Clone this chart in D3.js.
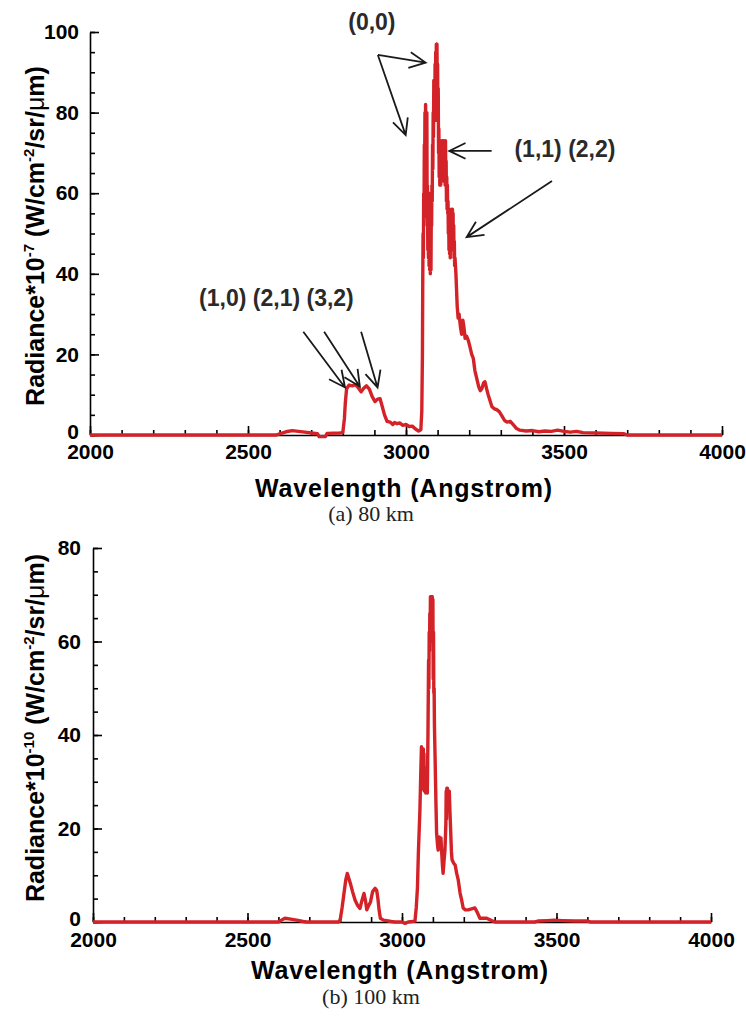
<!DOCTYPE html>
<html>
<head>
<meta charset="utf-8">
<script src="https://cdn.jsdelivr.net/npm/d3@7"></script>
<style>
  body { margin: 0; background: #fff; }
  svg { display: block; }
</style>
</head>
<body>
<svg id="fig"></svg>
<script>
// (a) 80 km spectrum: [wavelength (Angstrom), radiance (1e-7 W/cm^2/sr/um)]
const spectrum80 = [
  [2000, 0], [2590, 0], [2600, 0.3], [2620, 0.8], [2640, 1.1], [2660, 0.9], [2680, 0.7], [2700, 0.5],
  [2720, 0.3], [2725, -0.4], [2745, -0.4], [2750, 0.4], [2790, 0.5], [2800, 0.6],
  [2805, 4], [2808, 8], [2812, 11.5], [2820, 12.4], [2830, 12.2], [2840, 12.5], [2850, 11.6],
  [2858, 10.7], [2866, 11.6], [2875, 12.2], [2884, 11.4], [2893, 9.5], [2902, 8.3], [2910, 8.9],
  [2918, 9], [2925, 7], [2932, 5], [2940, 3.4], [2950, 3.2], [2958, 2.6], [2964, 3.1], [2972, 2.8],
  [2980, 3.0], [2990, 2.4], [3000, 2.6], [3010, 2.1], [3020, 2.2], [3030, 1.5], [3040, 1.0], [3047, 1.3],
  [3050, 6], [3052, 20], [3053, 38], [3054, 50], [3055, 44], [3056, 60], [3057, 54], [3058, 72],
  [3059, 66], [3060, 80], [3061, 72], [3062, 82], [3063, 66], [3064, 78], [3065, 58], [3066, 80],
  [3067, 52], [3068, 62], [3069, 46], [3070, 58], [3071, 44], [3072, 60], [3073, 42], [3074, 54],
  [3075, 41], [3076, 50], [3077, 40], [3078, 47], [3079, 41], [3080, 55], [3081, 52], [3082, 62],
  [3083, 58], [3084, 72], [3085, 66], [3086, 80], [3087, 74], [3088, 88], [3089, 80], [3090, 86],
  [3091, 78], [3092, 92], [3093, 84], [3094, 95], [3095, 88], [3096, 97], [3097, 90], [3098, 97],
  [3099, 86], [3100, 92], [3101, 78], [3102, 86], [3103, 70], [3104, 76], [3105, 64], [3106, 70],
  [3107, 62], [3108, 66], [3110, 62], [3111, 70], [3112, 64], [3113, 73], [3114, 66], [3115, 73],
  [3116, 64], [3117, 72], [3118, 63], [3119, 73], [3120, 66], [3121, 73], [3122, 64], [3123, 72],
  [3124, 62], [3125, 73], [3126, 63], [3127, 68], [3128, 58], [3129, 64], [3130, 56], [3131, 62],
  [3132, 55], [3133, 58], [3134, 50], [3135, 56], [3136, 46], [3137, 55], [3138, 45], [3139, 52],
  [3140, 44], [3141, 54], [3142, 46], [3143, 56], [3144, 47], [3145, 55], [3146, 48], [3147, 56],
  [3148, 50], [3149, 55], [3150, 46], [3151, 52], [3152, 44], [3153, 48], [3154, 42], [3155, 44],
  [3158, 40], [3162, 32], [3165, 29], [3168, 30], [3172, 27], [3176, 25], [3180, 28.5], [3183, 27],
  [3187, 24], [3192, 24.5], [3197, 23.5], [3202, 22], [3208, 20], [3213, 19], [3218, 16], [3224, 14],
  [3230, 12], [3235, 11], [3240, 11.5], [3246, 13], [3250, 13.2], [3255, 11.5], [3260, 10], [3266, 8.5],
  [3272, 7], [3280, 6.5], [3287, 6.3], [3295, 5.8], [3303, 4.8], [3312, 3.6], [3320, 3.2], [3330, 3.4],
  [3340, 2.5], [3350, 1.6], [3360, 1.2], [3380, 1.0], [3400, 1.1], [3420, 0.8], [3440, 1.0], [3460, 0.9],
  [3480, 1.2], [3500, 0.9], [3520, 0.7], [3540, 0.9], [3560, 0.6], [3600, 0.5], [3650, 0.4], [3690, 0.3],
  [3700, 0], [4000, 0],
];

// (b) 100 km spectrum: [wavelength (Angstrom), radiance (1e-10 W/cm^2/sr/um)]
const spectrum100 = [
  [2000, 0], [2600, 0], [2610, 0.4], [2621, 0.8], [2640, 0.6], [2659, 0.4], [2680, 0.1], [2691, 0],
  [2795, 0], [2800, 0.5], [2806, 3], [2812, 6], [2818, 9], [2823, 10.4], [2828, 9.3], [2834, 8],
  [2840, 6.5], [2848, 4.7], [2856, 3.6], [2864, 2.9], [2870, 4.5], [2877, 6.1], [2882, 4.5], [2886, 2.6],
  [2892, 3.5], [2898, 4.3], [2905, 6.5], [2913, 7.2], [2918, 6.8], [2922, 5], [2926, 2.5], [2930, 0.8],
  [2940, 0.4], [2950, 0.3], [2965, 0.1], [2977, 0], [3000, 0], [3010, -0.3], [3020, 0], [3042, 0.2],
  [3046, 3], [3050, 7.3], [3053, 14.8], [3058, 24], [3061, 32.5], [3063, 37.5], [3064, 30], [3065, 37],
  [3066, 29], [3067, 36.5], [3068, 28.5], [3069, 37], [3070, 30], [3071, 36], [3072, 28], [3073, 33],
  [3075, 28], [3077, 27.6], [3080, 30], [3082, 27.6], [3084, 40], [3085, 48], [3086, 56], [3087, 50],
  [3088, 62], [3089, 58], [3090, 66], [3091, 60], [3092, 69.6], [3093, 62], [3094, 69.6], [3095, 63],
  [3096, 69.6], [3097, 64], [3098, 69.6], [3099, 66], [3100, 69], [3101, 52], [3102, 62], [3103, 49],
  [3104, 50], [3105, 42], [3107, 35.4], [3110, 25], [3112, 19], [3115, 16.5], [3117, 15.4], [3120, 18.2],
  [3123, 16], [3126, 18], [3128, 15.4], [3131, 12], [3133, 10.4], [3136, 13], [3139, 15.4], [3142, 21],
  [3143, 28], [3144, 22], [3145, 28.6], [3146, 24], [3147, 28.6], [3148, 24], [3150, 28], [3152, 26],
  [3153, 28], [3155, 24], [3157, 20.4], [3160, 15], [3162, 13.3], [3167, 12.6], [3172, 12.2], [3177, 10.4],
  [3182, 9], [3188, 6.2], [3193, 4.7], [3198, 3], [3205, 2.6], [3214, 2.6], [3225, 2.8], [3236, 3],
  [3244, 2], [3252, 0.8], [3274, 0.8], [3290, 0.3], [3301, 0], [3430, 0], [3440, 0.2], [3470, 0.3],
  [3492, 0.4], [3520, 0.3], [3560, 0.2], [3600, 0.2], [3610, 0], [4000, 0],
];

const xTicks = [2000, 2500, 3000, 3500, 4000];
const yTicks80 = [0, 20, 40, 60, 80, 100];
const yTicks100 = [0, 20, 40, 60, 80];

// band annotations on panel (a), in data units
const bandLabels = ["(0,0)", "(1,1) (2,2)", "(1,0) (2,1) (3,2)"];
const bandLabelAt = [[2892, 100.6], [3503, 69], [2590, 32]];
const arrowFrom = [[2911, 94.3], [2911, 94.3], [3271, 70.5], [3462, 63], [2675, 25.6], [2741, 25.6], [2858, 25.6]];
const arrowTo = [[3062, 92.4], [2999, 74.4], [3137, 70.5], [3192, 49.1], [2807, 11.8], [2854, 12], [2910, 11.8]];

const W = 746, H = 1017;
const sans = "'Liberation Sans', Arial, sans-serif";
const red = "#d42229";

const svg = d3.select("#fig").attr("width", W).attr("height", H)
  .attr("font-family", sans);

const drawPanel = (p) => {
  const x = d3.scaleLinear().domain([2000, 4000]).range([p.left, p.right]);
  const y = d3.scaleLinear().domain([0, p.yMax]).range([p.bottom, p.top]);
  const g = svg.append("g");

  // minor ticks
  g.append("g")
    .attr("transform", `translate(0,${p.bottom})`)
    .call(d3.axisBottom(x).tickValues(d3.range(2000, 4001, 100)).tickSize(-5).tickFormat(""))
    .call((a) => a.select(".domain").remove());
  g.append("g")
    .attr("transform", `translate(${p.left},0)`)
    .call(d3.axisLeft(y).tickValues(d3.range(0, p.yMax + 1, 5)).tickSize(-5).tickFormat(""))
    .call((a) => a.select(".domain").remove());

  // major ticks + labels
  g.append("g")
    .attr("transform", `translate(0,${p.bottom})`)
    .call(d3.axisBottom(x).tickValues(xTicks).tickFormat(d3.format("d"))
      .tickSizeInner(-9).tickSizeOuter(0).tickPadding(p.xPad))
    .call((a) => a.selectAll("text").attr("font-size", 21).attr("font-weight", "bold").attr("fill", "#000"));
  g.append("g")
    .attr("transform", `translate(${p.left},0)`)
    .call(d3.axisLeft(y).tickValues(p.yTicks).tickFormat(d3.format("d"))
      .tickSizeInner(-9).tickSizeOuter(0).tickPadding(p.yPad))
    .call((a) => a.selectAll("text").attr("font-size", 21).attr("font-weight", "bold").attr("fill", "#000"))
    .call((a) => a.selectAll(".tick text").filter((d) => d === 0).attr("y", -3));
  g.selectAll(".domain, .tick line").attr("stroke", "#000").attr("stroke-width", 1.6);

  // spectrum
  g.append("path")
    .datum(p.data)
    .attr("fill", "none")
    .attr("stroke", red)
    .attr("stroke-width", 3.4)
    .attr("stroke-linejoin", "round")
    .attr("d", d3.line().x((d) => x(d[0])).y((d) => y(d[1])));

  // x title + caption
  g.append("text")
    .attr("x", (p.left + p.right) / 2 - 2).attr("y", p.titleY)
    .attr("text-anchor", "middle").attr("font-size", 25).attr("font-weight", "bold")
    .attr("letter-spacing", 0.8)
    .text("Wavelength (Angstrom)");
  g.append("text")
    .attr("x", 371).attr("y", p.captionY)
    .attr("text-anchor", "middle").attr("font-size", 22)
    .attr("font-family", "'Liberation Serif', 'Times New Roman', serif")
    .attr("fill", "#222")
    .text(p.caption);

  // y title with superscripts
  const yt = g.append("text")
    .attr("transform", `translate(44,${p.yMid}) rotate(-90)`)
    .attr("text-anchor", "middle").attr("font-size", 25).attr("font-weight", "bold");
  yt.append("tspan").text("Radiance*10");
  yt.append("tspan").attr("font-size", 15).attr("dy", -10).text(p.exponent);
  yt.append("tspan").attr("dy", 10).text(" (W/cm");
  yt.append("tspan").attr("font-size", 15).attr("dy", -10).text("-2");
  yt.append("tspan").attr("dy", 10).text("/sr/");
  yt.append("tspan").attr("font-weight", "normal").text("μ");
  yt.append("tspan").text("m)");

  return { x, y, g };
};

const a = drawPanel({
  left: 90, right: 722, top: 32, bottom: 435, yMax: 100, yTicks: yTicks80,
  xPad: 9, yPad: 11, titleY: 497, captionY: 521, yMid: 236,
  exponent: "-7", caption: "(a) 80 km", data: spectrum80,
});

drawPanel({
  left: 93, right: 711, top: 548, bottom: 922, yMax: 80, yTicks: yTicks100,
  xPad: 10, yPad: 12, titleY: 979, captionY: 1004, yMid: 728,
  exponent: "-10", caption: "(b) 100 km", data: spectrum100,
});

// annotations on panel (a)
const ann = a.g.append("g").attr("stroke", "#1a1a1a").attr("stroke-width", 1.8).attr("fill", "none");
d3.zip(arrowFrom, arrowTo).forEach(([f, t]) => {
  const x0 = a.x(f[0]), y0 = a.y(f[1]), x1 = a.x(t[0]), y1 = a.y(t[1]);
  const ang = Math.atan2(y1 - y0, x1 - x0);
  const len = 18, spread = 0.45;
  const wing = (s) => [x1 - len * Math.cos(ang + s), y1 - len * Math.sin(ang + s)];
  const w1 = wing(spread), w2 = wing(-spread);
  ann.append("path").attr("d", `M${x0},${y0}L${x1},${y1}M${w1[0]},${w1[1]}L${x1},${y1}L${w2[0]},${w2[1]}`);
});
a.g.selectAll("text.band")
  .data(bandLabels)
  .join("text")
  .attr("class", "band")
  .attr("x", (d, i) => a.x(bandLabelAt[i][0]))
  .attr("y", (d, i) => a.y(bandLabelAt[i][1]))
  .attr("text-anchor", "middle")
  .attr("font-size", 23)
  .attr("font-weight", "bold")
  .attr("fill", "#2a2a2a")
  .text((d) => d);
</script>
</body>
</html>
